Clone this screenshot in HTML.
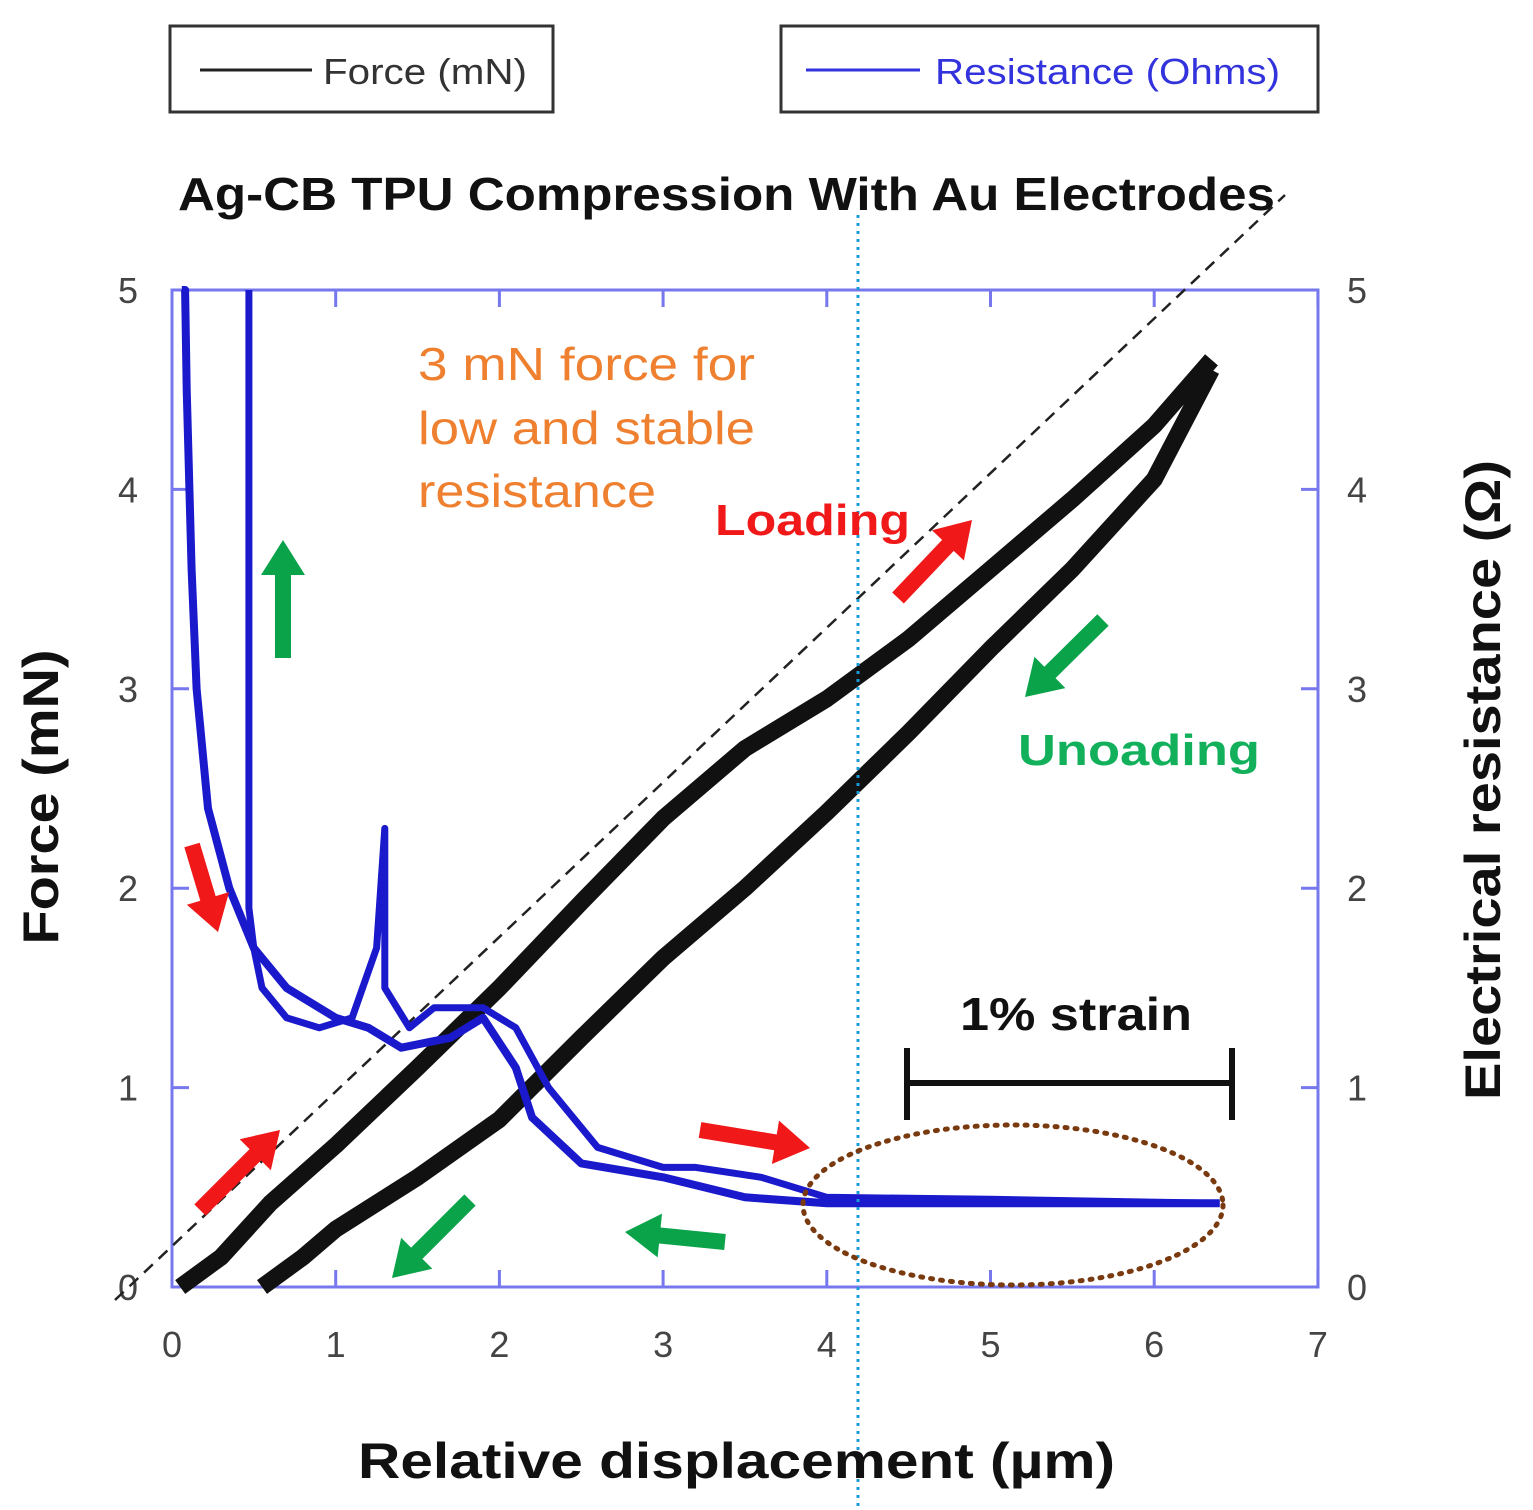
<!DOCTYPE html>
<html><head><meta charset="utf-8"><style>
body{margin:0;background:#fff;}
svg{display:block;font-family:"Liberation Sans",sans-serif;}
</style></head><body>
<svg id="chart" width="1533" height="1510" viewBox="0 0 1533 1510" xmlns="http://www.w3.org/2000/svg">
<g>
<rect x="170" y="26" width="383" height="86" fill="#fff" stroke="#333" stroke-width="3"/>
<line x1="200" y1="70" x2="312" y2="70" stroke="#222" stroke-width="3"/>
<text x="323" y="84" font-size="36" fill="#333" textLength="204" lengthAdjust="spacingAndGlyphs">Force (mN)</text>
</g>
<g>
<rect x="781" y="26" width="537" height="86" fill="#fff" stroke="#333" stroke-width="3"/>
<line x1="806" y1="70" x2="920" y2="70" stroke="#3333dd" stroke-width="3"/>
<text x="935" y="84" font-size="36" fill="#3333dd" textLength="345" lengthAdjust="spacingAndGlyphs">Resistance (Ohms)</text>
</g>
<text x="178" y="210" font-size="46" font-weight="bold" fill="#111" textLength="1097" lengthAdjust="spacingAndGlyphs">Ag-CB TPU Compression With Au Electrodes</text>
<g id="plot"></g>
</svg>
<script>
const xTicks=[0,1,2,3,4,5,6,7];
const yTicks=[0,1,2,3,4,5];
const forceLoadX=[0.05,0.3,0.6,1.0,1.5,2.0,2.5,3.0,3.5,4.0,4.5,5.0,5.5,6.0,6.35];
const forceLoadY=[0,0.15,0.42,0.71,1.1,1.5,1.93,2.35,2.7,2.95,3.25,3.6,3.95,4.32,4.65];
const forceUnloadX=[0.55,0.8,1.0,1.5,2.0,2.5,3.0,3.5,4.0,4.5,5.0,5.5,6.0,6.35];
const forceUnloadY=[0,0.15,0.29,0.55,0.84,1.25,1.65,2.0,2.38,2.78,3.2,3.6,4.05,4.6];
const resLoadX=[0.06,0.08,0.09,0.12,0.15,0.22,0.35,0.5,0.7,1.0,1.2,1.4,1.7,1.9,2.1,2.2,2.5,3.0,3.5,4.0,5.0,6.4];
const resLoadY=[5,5,4.5,3.6,3.0,2.4,2.0,1.7,1.5,1.35,1.3,1.2,1.25,1.35,1.1,0.85,0.62,0.55,0.45,0.42,0.42,0.42];
const resUnloadX=[6.4,5.0,4.0,3.6,3.2,3.0,2.6,2.3,2.1,1.9,1.6,1.45,1.3,1.3,1.25,1.1,0.9,0.7,0.55,0.5,0.47,0.47,0.47];
const resUnloadY=[0.42,0.44,0.45,0.55,0.6,0.6,0.7,1.0,1.3,1.4,1.4,1.3,1.5,2.3,1.7,1.35,1.3,1.35,1.5,1.7,1.9,3.5,5];
const xScale=v=>172+v*163.7;
const yScale=v=>1287-v*199.4;
const NS="http://www.w3.org/2000/svg";
const plot=document.getElementById('plot');
function mk(tag,attrs){const e=document.createElementNS(NS,tag);for(const k in attrs)e.setAttribute(k,attrs[k]);plot.appendChild(e);return e;}
function pathFrom(xs,ys){return xs.map((x,i)=>(i?'L':'M')+xScale(x).toFixed(1)+' '+yScale(ys[i]).toFixed(1)).join(' ');}

let fr=mk('rect',{x:172,y:290,width:1146,height:997,fill:'none',stroke:'#7777ee','stroke-width':3});


xTicks.forEach(t=>{
  const x=xScale(t);
  let l=mk('line',{x1:x,y1:1287,x2:x,y2:1270,stroke:'#7777ee','stroke-width':3});
  
  
  let l2=mk('line',{x1:x,y1:290,x2:x,y2:307,stroke:'#7777ee','stroke-width':3});
  
  
  let tx=mk('text',{x:x,y:1357,'text-anchor':'middle','font-size':36,fill:'#444'});
  tx.textContent=t;
  
  
});
yTicks.forEach(t=>{
  const y=yScale(t);
  let l=mk('line',{x1:172,y1:y,x2:189,y2:y,stroke:'#7777ee','stroke-width':3});
  
  
  let l2=mk('line',{x1:1318,y1:y,x2:1301,y2:y,stroke:'#7777ee','stroke-width':3});
  
  
  let tl=mk('text',{x:128,y:y+13,'text-anchor':'middle','font-size':36,fill:'#444'});
  tl.textContent=t;
  
  
  let tr=mk('text',{x:1357,y:y+13,'text-anchor':'middle','font-size':36,fill:'#444'});
  tr.textContent=t;
  
  
});
let dl=mk('line',{x1:115,y1:1300,x2:1285,y2:195,stroke:'#222','stroke-width':2.5,'stroke-dasharray':'12 8'});


let fl=mk('path',{d:pathFrom(forceLoadX,forceLoadY),fill:'none',stroke:'#111','stroke-width':17,'stroke-linejoin':'round'});


let fu=mk('path',{d:pathFrom(forceUnloadX,forceUnloadY),fill:'none',stroke:'#111','stroke-width':17,'stroke-linejoin':'round'});


let rl=mk('path',{d:pathFrom(resLoadX,resLoadY),fill:'none',stroke:'#1a1acc','stroke-width':8,'stroke-linejoin':'round'});


let ru=mk('path',{d:pathFrom(resUnloadX,resUnloadY),fill:'none',stroke:'#1a1acc','stroke-width':7,'stroke-linejoin':'round'});


let vd=mk('line',{x1:858,y1:215,x2:858,y2:1510,stroke:'#1a9ad6','stroke-width':3,'stroke-dasharray':'3 5'});


let el=mk('ellipse',{cx:1013,cy:1205,rx:210,ry:80,fill:'none',stroke:'#7a3a10','stroke-width':5,'stroke-dasharray':'2 8','stroke-linecap':'round'});


let sb=mk('path',{d:'M907 1048 V1120 M1232 1048 V1120 M907 1083 H1232',stroke:'#111','stroke-width':6,fill:'none'});


function arrow(x1,y1,x2,y2,color,name){
  const dx=x2-x1,dy=y2-y1,L=Math.hypot(dx,dy),ux=dx/L,uy=dy/L,px=-uy,py=ux;
  const hl=35,hw=22,sw=8;
  const bx=x2-ux*hl,by=y2-uy*hl;
  const pts=[[x1+px*sw,y1+py*sw],[bx+px*sw,by+py*sw],[bx+px*hw,by+py*hw],[x2,y2],[bx-px*hw,by-py*hw],[bx-px*sw,by-py*sw],[x1-px*sw,y1-py*sw]];
  const p=mk('polygon',{points:pts.map(q=>q.join(',')).join(' '),fill:color});
  
  
}
arrow(200,1210,280,1130,'#f01818','loading-arrow-1');
arrow(898,598,972,520,'#f01818','loading-arrow-2');
arrow(700,1130,810,1148,'#f01818','loading-arrow-3');
arrow(192,845,218,932,'#f01818','loading-arrow-4');
arrow(283,658,283,540,'#0aa34a','unloading-arrow-1');
arrow(1103,620,1025,697,'#0aa34a','unloading-arrow-2');
arrow(470,1200,392,1278,'#0aa34a','unloading-arrow-3');
arrow(725,1242,625,1232,'#0aa34a','unloading-arrow-4');
function txt(s,x,y,attrs,name){const t=mk('text',Object.assign({x:x,y:y},attrs));t.textContent=s;


return t;}
txt('3 mN force for',418,380,{'font-size':46,fill:'#ee8030',textLength:337,lengthAdjust:'spacingAndGlyphs'},'annotation-line-1');
txt('low and stable',418,444,{'font-size':46,fill:'#ee8030',textLength:337,lengthAdjust:'spacingAndGlyphs'},'annotation-line-2');
txt('resistance',418,507,{'font-size':46,fill:'#ee8030',textLength:238,lengthAdjust:'spacingAndGlyphs'},'annotation-line-3');
txt('Loading',715,535,{'font-size':44,'font-weight':'bold',fill:'#f01818',textLength:195,lengthAdjust:'spacingAndGlyphs'},'loading-label');
txt('Unoading',1018,765,{'font-size':44,'font-weight':'bold',fill:'#12b05a',textLength:242,lengthAdjust:'spacingAndGlyphs'},'unloading-label');
txt('1% strain',960,1030,{'font-size':46,'font-weight':'bold',fill:'#111',textLength:232,lengthAdjust:'spacingAndGlyphs'},'strain-label');
txt('Relative displacement (µm)',358,1478,{'font-size':50,'font-weight':'bold',fill:'#111',textLength:757,lengthAdjust:'spacingAndGlyphs'},'x-axis-title');
txt('Force (mN)',0,0,{'font-size':50,'font-weight':'bold',fill:'#111','text-anchor':'middle',textLength:295,lengthAdjust:'spacingAndGlyphs',transform:'translate(58,797) rotate(-90)'},'y-axis-title');
txt('Electrical resistance (Ω)',0,0,{'font-size':50,'font-weight':'bold',fill:'#111','text-anchor':'middle',textLength:640,lengthAdjust:'spacingAndGlyphs',transform:'translate(1500,780) rotate(-90)'},'y2-axis-title');
</script>
</body></html>
